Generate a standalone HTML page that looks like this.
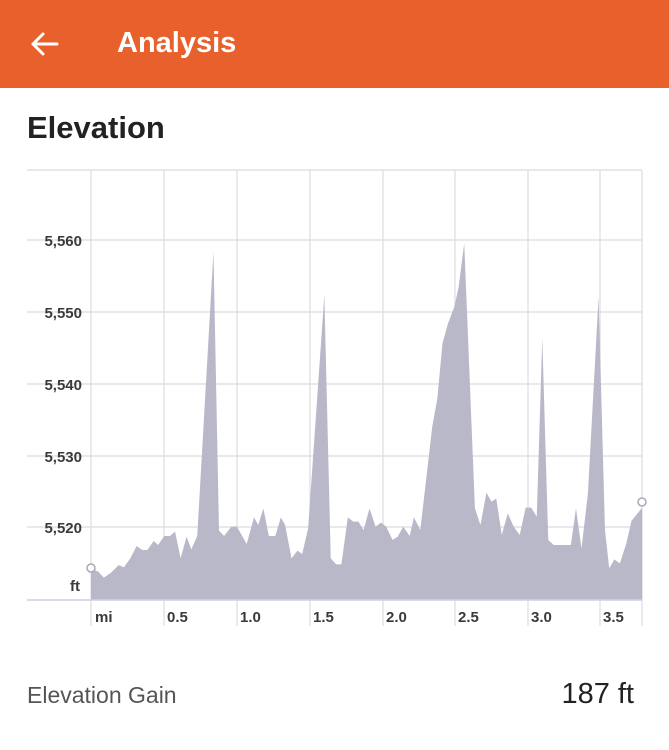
<!DOCTYPE html>
<html><head><meta charset="utf-8"><style>
body{margin:0;width:669px;height:750px;background:#fff;font-family:"Liberation Sans",sans-serif;overflow:hidden;position:relative}
.hdr{position:absolute;left:0;top:0;width:669px;height:88px;background:#E8602C}
.t{position:absolute;color:#fff;font-weight:bold;font-size:29px;left:117px;top:27px}
.h{position:absolute;left:27px;top:110px;font-size:31px;font-weight:bold;color:#222}
.g{position:absolute;left:27px;top:682px;font-size:23px;color:#555}
.v{position:absolute;right:35px;top:678px;font-size:29px;color:#222}
</style></head><body>
<div class="hdr"></div>
<svg style="position:absolute;left:30px;top:30px" width="32" height="30"><path d="M3 14 H27 M3 14 L13 4 M3 14 L13 24" stroke="#fff" stroke-width="3" fill="none" stroke-linecap="round"/></svg>
<div class="t">Analysis</div>
<div class="h">Elevation</div>
<svg style="position:absolute;left:0;top:0" width="669" height="750">
<g stroke="#dcdce2" stroke-width="1.2">
<line x1="27" y1="170" x2="642" y2="170"/>
<line x1="27" y1="240" x2="642" y2="240"/><line x1="27" y1="312" x2="642" y2="312"/><line x1="27" y1="384" x2="642" y2="384"/><line x1="27" y1="456" x2="642" y2="456"/><line x1="27" y1="527" x2="642" y2="527"/>
<line x1="91" y1="170" x2="91" y2="626"/><line x1="164" y1="170" x2="164" y2="626"/><line x1="237" y1="170" x2="237" y2="626"/><line x1="310" y1="170" x2="310" y2="626"/><line x1="383" y1="170" x2="383" y2="626"/><line x1="455" y1="170" x2="455" y2="626"/><line x1="528" y1="170" x2="528" y2="626"/><line x1="600" y1="170" x2="600" y2="626"/><line x1="642" y1="170" x2="642" y2="626"/>
</g>
<g transform="translate(0.2,160) scale(0.4265,0.33333)">
<polygon fill="#b9b8c9" points="213,1320 213,1225 230,1235 243,1253 260,1238 278,1215 290,1222 305,1195 320,1158 333,1170 345,1170 360,1143 370,1155 385,1128 398,1128 410,1115 423,1195 437,1130 448,1168 462,1128 500,275 513,1112 525,1128 542,1100 555,1100 578,1152 595,1072 605,1095 617,1045 630,1128 645,1128 658,1072 668,1095 683,1195 697,1172 708,1182 722,1105 760,405 775,1195 788,1213 800,1213 815,1072 828,1085 840,1085 852,1110 866,1045 880,1100 893,1088 905,1100 920,1140 932,1130 945,1100 960,1128 970,1072 985,1110 1013,800 1025,715 1037,550 1050,490 1065,440 1075,380 1088,250 1113,1045 1126,1095 1140,998 1152,1025 1163,1015 1176,1125 1190,1060 1204,1100 1218,1125 1232,1043 1245,1043 1258,1070 1271,535 1285,1140 1298,1155 1338,1155 1350,1045 1363,1165 1378,1000 1403,410 1418,1110 1428,1225 1440,1198 1453,1210 1468,1150 1480,1083 1505,1043 1505,1320"/>
</g>
<line x1="27" y1="600" x2="642" y2="600" stroke="#cfcfe0" stroke-width="1.5"/>
<circle cx="91" cy="568" r="4" fill="#fff" stroke="#a9a8b8" stroke-width="1.5"/>
<circle cx="642" cy="502" r="4" fill="#fff" stroke="#a9a8b8" stroke-width="1.5"/>
<g font-family="Liberation Sans" font-size="15" font-weight="bold" fill="#3a3a3a" text-anchor="end">
<text x="82" y="246">5,560</text><text x="82" y="318">5,550</text><text x="82" y="390">5,540</text><text x="82" y="462">5,530</text><text x="82" y="533">5,520</text><text x="80" y="591">ft</text>
</g>
<g font-family="Liberation Sans" font-size="15" font-weight="bold" fill="#3a3a3a">
<text x="95" y="622">mi</text><text x="167" y="622">0.5</text><text x="240" y="622">1.0</text><text x="313" y="622">1.5</text><text x="386" y="622">2.0</text><text x="458" y="622">2.5</text><text x="531" y="622">3.0</text><text x="603" y="622">3.5</text>
</g>
</svg>
<div class="g">Elevation Gain</div>
<div class="v">187 ft</div>
</body></html>
